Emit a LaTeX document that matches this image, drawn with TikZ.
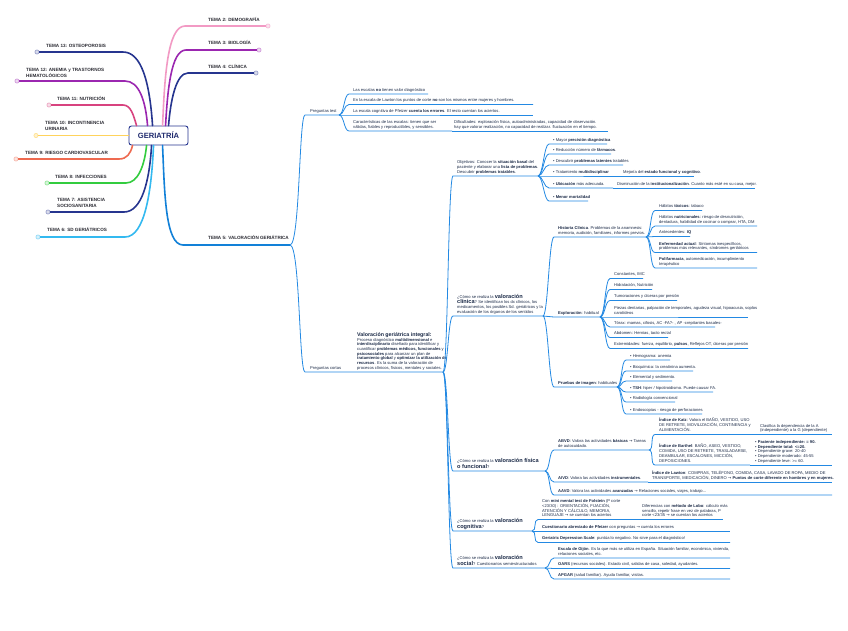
\documentclass[tikz,border=0pt]{standalone}
\usepackage{fontspec}
\setmainfont{Liberation Sans}
\newfontfamily\arwfont{DejaVu Sans}
\usetikzlibrary{calc}
\newcommand{\myarr}{{\arwfont →}}
\newcommand{\tb}[1]{\begin{tabular}[b]{@{}l@{}}#1\end{tabular}}
\newcommand{\bigw}[1]{{\fontsize{5.6}{6}\selectfont\bfseries #1}}
\definecolor{txt}{HTML}{1B2A47}
\definecolor{tlc}{HTML}{2B2B33}
\definecolor{sbl}{HTML}{2389E3}
\definecolor{cT2}{HTML}{F29AC4}
\definecolor{cPur}{HTML}{9B27B0}
\definecolor{cNav}{HTML}{26358F}
\definecolor{cNavT}{HTML}{1F2A6E}
\definecolor{cMag}{HTML}{D8437F}
\definecolor{cYel}{HTML}{FFD35C}
\definecolor{cRed}{HTML}{EE6A50}
\definecolor{cGrn}{HTML}{33CC3F}
\definecolor{cCya}{HTML}{33B9F0}
\definecolor{cT5}{HTML}{1281D8}
\newcommand{\mmleaf}[6]{%
  \node[tx] (#1) at (#3,#4-2.7) {\tb{#6}};
  \coordinate (#1a) at (#3-4,#4);
  \coordinate (#1b) at (#5,#4);
  \draw[subl] (#2) .. controls +(5,0) and +(-5,0) .. (#1a) -- (#1b);}
\newcommand{\mmside}[6]{%
  \node[tx] (#1) at (#3,#4-2.7) {\tb{#6}};
  \coordinate (#1b) at (#5,#4);
  \draw[subl] (#2) -- (#1b);}
\tikzset{
  tx/.style={anchor=base west, inner sep=0pt, text=txt, font=\fontsize{4.1}{4.7}\selectfont},
  tl/.style={anchor=base west, inner sep=0pt, text=tlc, font=\fontsize{4.6}{5.8}\selectfont\bfseries},
  subl/.style={draw=sbl, line width=0.8pt},
  dotn/.style={circle, inner sep=0pt, minimum size=4.2pt, line width=0.6pt},
  brh/.style={line width=1.1pt},
  brc/.style={line width=1.6pt, line cap=round},
}
\begin{document}
\begin{tikzpicture}[x=1pt,y=-1pt]
\useasboundingbox (0,0) rectangle (848,630);
\fill[white] (0,0) rectangle (848,630);

% central node
\node[draw=cNav, line width=0.9pt, rounded corners=2.5pt, fill=white, minimum width=59pt, minimum height=19pt, inner sep=0pt, text=cNavT, font=\fontsize{7.6}{8}\selectfont\bfseries] (G) at (158.5,135.5) {GERIATRÍA};
\coordinate (g13) at ($(G.north west)+(24,0)$);
\coordinate (g12) at ($(G.north west)+(19,0)$);
\coordinate (g11) at ($(G.north west)+(8,0)$);
\coordinate (g2) at ($(G.north west)+(34,0)$);
\coordinate (g3) at ($(G.north west)+(37,0)$);
\coordinate (g4) at ($(G.north west)+(40,0)$);
\coordinate (g9) at ($(G.south west)+(4,0)$);
\coordinate (g8) at ($(G.south west)+(18,0)$);
\coordinate (g7) at ($(G.south west)+(23,0)$);
\coordinate (g6) at ($(G.south west)+(25,0)$);
\coordinate (g5) at ($(G.south west)+(34,0)$);

% left branches
\node[dotn, draw=cNav!50, fill=cNav!18] (d13) at (37,52) {};
\node[tl] (t13) at (46,47) {\tb{TEMA 13: OSTEOPOROSIS}};
\coordinate (h13) at (123,52);
\draw[brh, cNav] (d13) -- (h13);
\draw[brc, cNav] (h13) .. controls +(18,0) and +(-3,-45) .. (g13);

\node[dotn, draw=cPur!50, fill=cPur!18] (d12) at (17,81) {};
\node[tl] (t12) at (26,77) {\tb{TEMA 12: ANEMIA y TRASTORNOS\\HEMATOLÓGICOS}};
\coordinate (h12) at (125,81);
\draw[brh, cPur] (d12) -- (h12);
\draw[brc, cPur] (h12) .. controls +(14,0) and +(-2,-25) .. (g12);

\node[dotn, draw=cMag!50, fill=cMag!18] (d11) at (49,105) {};
\node[tl] (t11) at (57,100) {\tb{TEMA 11: NUTRICIÓN}};
\coordinate (h11) at (123,105);
\draw[brh, cMag] (d11) -- (h11);
\draw[brc, cMag] (h11) .. controls +(8,0) and +(-3,-10) .. (g11);

\node[dotn, draw=cYel!70, fill=cYel!30] (d10) at (36,135.5) {};
\node[tl] (t10) at (45,130) {\tb{TEMA 10: INCONTINENCIA\\URINARIA}};
\draw[brc, cYel] (d10) -- (G.west |- d10);

\node[dotn, draw=cRed!50, fill=cRed!18] (d9) at (16,159) {};
\node[tl] (t9) at (25,154) {\tb{TEMA 9: RIESGO CARDIOVASCULAR}};
\coordinate (h9) at (119,159);
\draw[brh, cRed] (d9) -- (h9);
\draw[brc, cRed] (h9) .. controls +(8,0) and +(-2,8) .. (g9);

\node[dotn, draw=cGrn!55, fill=cGrn!20] (d8) at (47,183) {};
\node[tl] (t8) at (55,178) {\tb{TEMA 8: INFECCIONES}};
\coordinate (h8) at (126,183);
\draw[brh, cGrn] (d8) -- (h8);
\draw[brc, cGrn] (h8) .. controls +(12,0) and +(-2,20) .. (g8);

\node[dotn, draw=cNav!50, fill=cNav!18] (d7) at (48,212) {};
\node[tl] (t7) at (57,207) {\tb{TEMA 7: ASISTENCIA\\SOCIOSANITARIA}};
\coordinate (h7) at (124,212);
\draw[brh, cNav] (d7) -- (h7);
\draw[brc, cNav] (h7) .. controls +(18,0) and +(-2,35) .. (g7);

\node[dotn, draw=cCya!55, fill=cCya!20] (d6) at (38,237) {};
\node[tl] (t6) at (47,231) {\tb{TEMA 6: SD GERIÁTRICOS}};
\coordinate (h6) at (125,237);
\draw[brh, cCya] (d6) -- (h6);
\draw[brc, cCya] (h6) .. controls +(20,0) and +(-2,45) .. (g6);

% right branches
\node[dotn, draw=cT2!70, fill=cT2!30] (d2) at (268,26) {};
\node[tl] (t2) at (208,21) {\tb{TEMA 2: DEMOGRAFÍA}};
\coordinate (h2) at (185,26);
\draw[brc, cT2] (g2) .. controls +(2,-45) and +(-18,0) .. (h2);
\draw[brh, cT2] (h2) -- (d2);

\node[dotn, draw=cPur!50, fill=cPur!18] (d3) at (259,50) {};
\node[tl] (t3) at (208,44.5) {\tb{TEMA 3: BIOLOGÍA}};
\coordinate (h3) at (186,50);
\draw[brc, cPur] (g3) .. controls +(2,-35) and +(-15,0) .. (h3);
\draw[brh, cPur] (h3) -- (d3);

\node[dotn, draw=cNav!50, fill=cNav!18] (d4) at (256,73) {};
\node[tl] (t4) at (208,68) {\tb{TEMA 4: CLÍNICA}};
\coordinate (h4) at (188,73);
\draw[brc, cNav] (g4) .. controls +(2,-25) and +(-12,0) .. (h4);
\draw[brh, cNav] (h4) -- (d4);

\node[tl] (t5) at (208,239.5) {\tb{TEMA 5: VALORACIÓN GERIÁTRICA}};
\coordinate (h5) at (183,245);
\coordinate (T5e) at (290,245);
\draw[brc, cT5] (g5) .. controls +(2,45) and +(-18,0) .. (h5);
\draw[brh, cT5] (h5) -- (T5e);

% Preguntas test
\node[tx] (PT) at (310,112.3) {\tb{Preguntas test}};
\coordinate (PTa) at (305,115);
\coordinate (PTb) at (339,115);
\draw[subl] (T5e) .. controls +(10,0) and +(-6,0) .. (PTa) -- (PTb);
\mmleaf{q1}{PTb}{353}{94}{428}{Las escalas \textbf{no} tienen valor diagnóstico}
\mmleaf{q2}{PTb}{353}{104.5}{533}{En la escala de Lawton los puntos de corte \textbf{no} son los mismos entre mujeres y hombres.}
\mmleaf{q3}{PTb}{353}{115}{533}{La escala cognitiva de Pfeizer \textbf{cuenta los errores}. El resto cuentan los aciertos.}
\mmleaf{q4}{PTb}{353}{131}{452}{Características de las escalas: tienen que ser\\válidas, fiables y reproductibles, y sensibles.}
\mmside{q5}{q4b}{454}{131}{608}{Dificultades: exploración física, autoadministradas, capacidad de observación.\\hay que valorar realización, no capacidad de realizar. fluctuación en el tiempo.}

% Preguntas cortas
\node[tx] (PC) at (310,369.3) {\tb{Preguntas cortas}};
\coordinate (PCa) at (305,372);
\node[tx] (VGI) at (357,369.3) {\tb{{\fontsize{5.3}{6}\selectfont\bfseries Valoración geriátrica integral:}\\Proceso diagnóstico \textbf{multidimensional} e\\\textbf{interdisciplinario} diseñado para identificar y\\cuantificar \textbf{problemas médicos, funcionales} y\\\textbf{psicosociales} para alcanzar un plan de\\\textbf{tratamiento global} y \textbf{optimizar la utilización de}\\\textbf{recursos}. Es la suma de la valoración de\\procesos clínicos, físicos, mentales y sociales.}};
\coordinate (VGIb) at (443,372);
\draw[subl] (T5e) .. controls +(10,0) and +(-6,0) .. (PCa) -- (VGIb);

% Objetivos
\mmleaf{obj}{VGIb}{457}{176}{538}{Objetivos: Conocer la \textbf{situación basal} del\\paciente y elaborar una \textbf{lista de problemas}.\\Descubrir \textbf{problemas tratables}.}
\mmleaf{o1}{objb}{553}{144}{607}{• Mayor \textbf{precisión diagnóstica}}
\mmleaf{o2}{objb}{553}{154}{611}{• Reducción número de \textbf{fármacos}.}
\mmleaf{o3}{objb}{553}{165}{623}{• Descubrir \textbf{problemas latentes} tratables}
\mmleaf{o4}{objb}{553}{176}{619}{• Tratamiento \textbf{multidisciplinar}}
\mmside{o4x}{o4b}{623}{176}{694}{Mejoría del \textbf{estado funcional y cognitivo}.}
\mmleaf{o5}{objb}{553}{188}{613}{• \textbf{Ubicación} más adecuada.}
\mmside{o5x}{o5b}{617}{188}{755}{Disminución de la \textbf{institucionalización}. Cuanto más esté en su casa, mejor.}
\mmleaf{o6}{objb}{553}{201}{588}{• \textbf{Menor mortalidad}}

% Valoracion clinica
\mmleaf{vc}{VGIb}{457}{316}{543}{¿Cómo se realiza la \bigw{valoración}\\\bigw{clínica}? Se identifican los dx clínicos, los\\medicamentos, los posibles Sd. geriátricos y la\\evaluación de los órganos de los sentidos}
\mmleaf{hc}{vcb}{558}{237}{646}{\textbf{Historia Clínica}. Problemas de la anamnesis:\\memoria, audición, familiares, informes previos.}
\mmleaf{h1}{hcb}{659}{210.5}{702}{Hábitos \textbf{tóxicos}: tabaco}
\mmleaf{h2}{hcb}{659}{226}{757}{Hábitos \textbf{nutricionales}: riesgo de desnutrición,\\dentadura, habilidad de cocinar o comprar, HTA, DM}
\mmleaf{h3}{hcb}{659}{236.5}{690}{Antecedentes: \textbf{IQ}}
\mmleaf{h4}{hcb}{659}{252.5}{757}{\textbf{Enfermedad actual}: Síntomas inespecíficos,\\problemas más relevantes, síndromes geriátricos}
\mmleaf{h5}{hcb}{659}{268}{757}{\textbf{Polifarmacia}, automedicación, incumplimiento\\terapéutico}
\mmleaf{ex}{vcb}{558}{317}{600}{\textbf{Exploración}: habitual}
\mmleaf{e1}{exb}{614}{278.5}{643}{Constantes, IMC}
\mmleaf{e2}{exb}{614}{289.5}{652}{Hidratación, Nutrición}
\mmleaf{e3}{exb}{614}{300.5}{677}{Tumoraciones y úlceras por presión}
\mmleaf{e4}{exb}{614}{317}{748}{Piezas dentarias, palpación de temporales, agudeza visual, hipoacusia, soplos\\carotídeos}
\mmleaf{e5}{exb}{614}{327}{715}{Tórax: mamas, cifosis, AC -FA?- , AP -crepitantes basales-}
\mmleaf{e6}{exb}{614}{337.5}{668}{Abdomen: Hernias, tacto rectal}
\mmleaf{e7}{exb}{614}{348.5}{748}{Extremidades: fuerza, equilibrio, \textbf{pulsos}, Reflejos OT, úlceras por presión}
\mmleaf{pi}{vcb}{558}{387}{617}{\textbf{Pruebas de imagen}: habituales}
\mmleaf{p1}{pib}{630}{360}{670}{• Hemograma: anemia}
\mmleaf{p2}{pib}{630}{371}{693}{• Bioquímica: la creatinina aumenta.}
\mmleaf{p3}{pib}{630}{381}{672}{• Elemental y sedimento.}
\mmleaf{p4}{pib}{630}{392}{713}{• \textbf{TSH}: hiper / hipotiroidismo. Puede causar FA.}
\mmleaf{p5}{pib}{630}{402}{675}{• Radiología convencional}
\mmleaf{p6}{pib}{630}{414}{702}{• Endoscopias - riesgo de perforaciones}

% Valoracion fisica
\mmleaf{vf}{VGIb}{457}{471}{545}{¿Cómo se realiza la \bigw{valoración física}\\\bigw{o funcional}?}
\mmleaf{ab}{vfb}{558}{450}{649}{\textbf{ABVD}: Valora las actividades \textbf{básicas} \myarr{} Tareas\\de autocuidado.}
\mmleaf{k}{abb}{659}{434.5}{750}{\textbf{Índice de Katz}: Valora el BAÑO, VESTIDO, USO\\DE RETRETE, MOVILIZACIÓN, CONTINENCIA y\\ALIMENTACIÓN.}
\mmside{kx}{kb}{760}{434.5}{832}{Clasifica la dependencia de la A\\(independiente) a la G (dependiente)}
\mmleaf{bt}{abb}{659}{465}{750}{\textbf{Índice de Barthel}: BAÑO, ASEO, VESTIDO,\\COMIDA, USO DE RETRETE, TRASLADARSE,\\DEAMBULAR, ESCALONES, MICCIÓN,\\DEPOSICIONES.}
\mmside{btx}{btb}{755}{465}{832}{• \textbf{Paciente independiente: = 90.}\\• \textbf{Dependiente total: <=20.}\\• Dependiente grave: 20-40\\• Dependiente moderado: 45-55\\• Dependiente leve: >= 60.}
\mmleaf{ai}{vfb}{558}{482}{648}{\textbf{AIVD}: Valora las actividades \textbf{instrumentales}.}
\mmside{aix}{aib}{652}{482}{832}{\textbf{Índice de Lawton}: COMPRAS, TELÉFONO, COMIDA, CASA, LAVADO DE ROPA, MEDIO DE\\TRANSPORTE, MEDICACIÓN, DINERO \myarr{} \textbf{Puntos de corte diferente en hombres y en mujeres.}}
\mmleaf{aa}{vfb}{558}{495}{832}{\textbf{AAVD}: Valora las actividades \textbf{avanzadas} \myarr{} Relaciones sociales, viajes, trabajo...}

% Valoracion cognitiva
\mmleaf{cg}{VGIb}{457}{531}{532}{¿Cómo se realiza la \bigw{valoración}\\\bigw{cognitiva}?}
\mmleaf{c1}{cgb}{542}{519.5}{638}{Con \textbf{mini mental test de Folstein} (P corte\\<23/30) : ORIENTACIÓN, FIJACIÓN,\\ATENCIÓN Y CÁLCULO, MEMORIA,\\LENGUAJE \myarr{} se cuentan los aciertos}
\mmside{c1x}{c1b}{642}{519.5}{723}{Diferencias con \textbf{método de Lobo}: cálculo más\\sencillo, repetir frase en vez de palabras, P\\corte <23/35 \myarr{} se cuentan los aciertos}
\mmleaf{c2}{cgb}{542}{531}{730}{\textbf{Cuestionario abreviado de Pfeizer} con preguntas \myarr{} cuenta los errores}
\mmleaf{c3}{cgb}{542}{542.5}{730}{\textbf{Geriatric Depression Scale}: puntúa lo negativo. No sirve para el diagnóstico!}

% Valoracion social
\mmleaf{so}{VGIb}{457}{568}{545}{¿Cómo se realiza la \bigw{valoración}\\\bigw{social}? Cuestionarios semiestructurados}
\mmleaf{s1}{sob}{558}{558}{730}{\textbf{Escala de Gijón}. Es la que más se utiliza en España. Situación familiar, económica, vivienda,\\relaciones sociales, etc.}
\mmleaf{s2}{sob}{558}{568.5}{730}{\textbf{OARS} (recursos sociales). Estado civil, salidas de casa, soledad, ayudantes.}
\mmleaf{s3}{sob}{558}{579}{730}{\textbf{APGAR} (salud familiar). Ayuda familiar, visitas.}
\end{tikzpicture}
\end{document}
